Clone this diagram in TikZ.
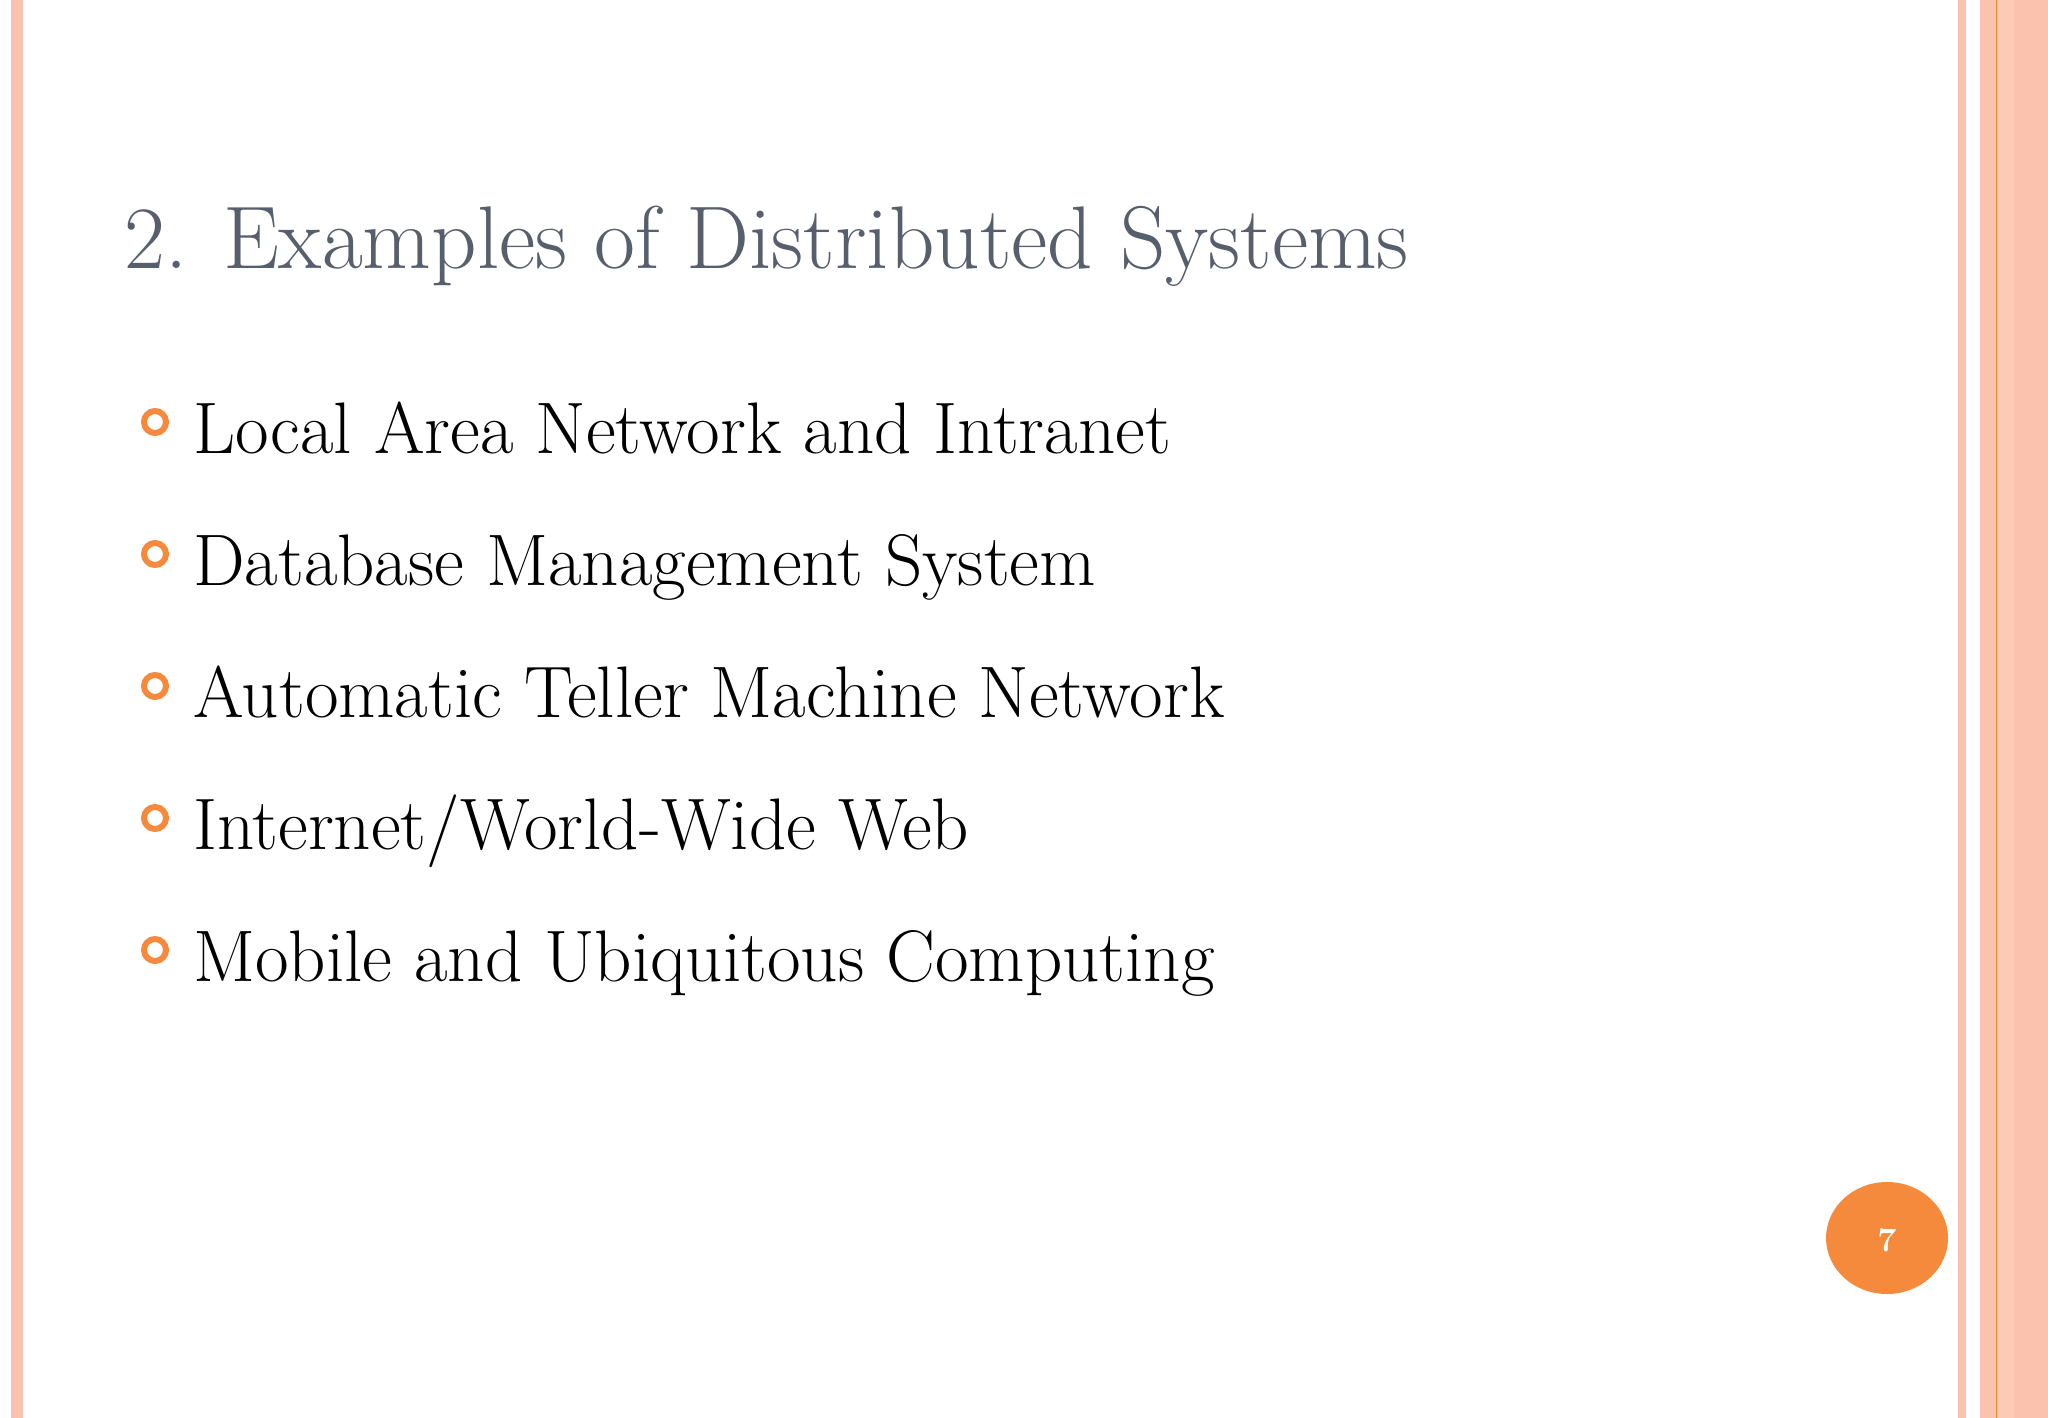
\documentclass[tikz,border=0pt]{standalone}
\usepackage{fontspec}
\definecolor{stripe}{HTML}{FBC3AE}
\definecolor{stripeB}{HTML}{FCCAB5}
\definecolor{orng}{HTML}{F58A3C}
\definecolor{ttl}{HTML}{575F6D}
\begin{document}
\begin{tikzpicture}[x=1pt,y=-1pt,
  bul/.style={anchor=base west,inner sep=0,font=\fontsize{73}{80}\selectfont},
  ring/.style={draw=orng,line width=6pt}]
\useasboundingbox (0,0) rectangle (2048,1418);
\fill[white] (0,0) rectangle (2048,1418);
\fill[stripe] (11,0) rectangle (23,1418);
\fill[stripe] (1958,0) rectangle (1966,1418);
\fill[stripe] (1980,0) rectangle (2048,1418);
\fill[stripeB] (1995,0) rectangle (2014,1418);
\fill[orng] (1995.5,0) rectangle (1997,1418);
\node[anchor=base west,inner sep=0,text=ttl,font=\fontsize{89}{95}\selectfont] (title) at (124,268) {2. Examples of Distributed Systems};
\foreach \t [count=\i] in {Local Area Network and Intranet,Database Management System,Automatic Teller Machine Network,Internet/World-Wide Web,Mobile and Ubiquitous Computing}{
  \node[bul] (b\i) at (193,{453+132*(\i-1)}) {\t};
  \draw[ring] (155,{422+132*(\i-1)}) circle (11);
}
\fill[orng] (1887,1238) ellipse (61 and 56);
\node[text=white,font=\bfseries\fontsize{34}{36}\selectfont] (pg) at (1887,1240) {7};
\end{tikzpicture}
\end{document}
